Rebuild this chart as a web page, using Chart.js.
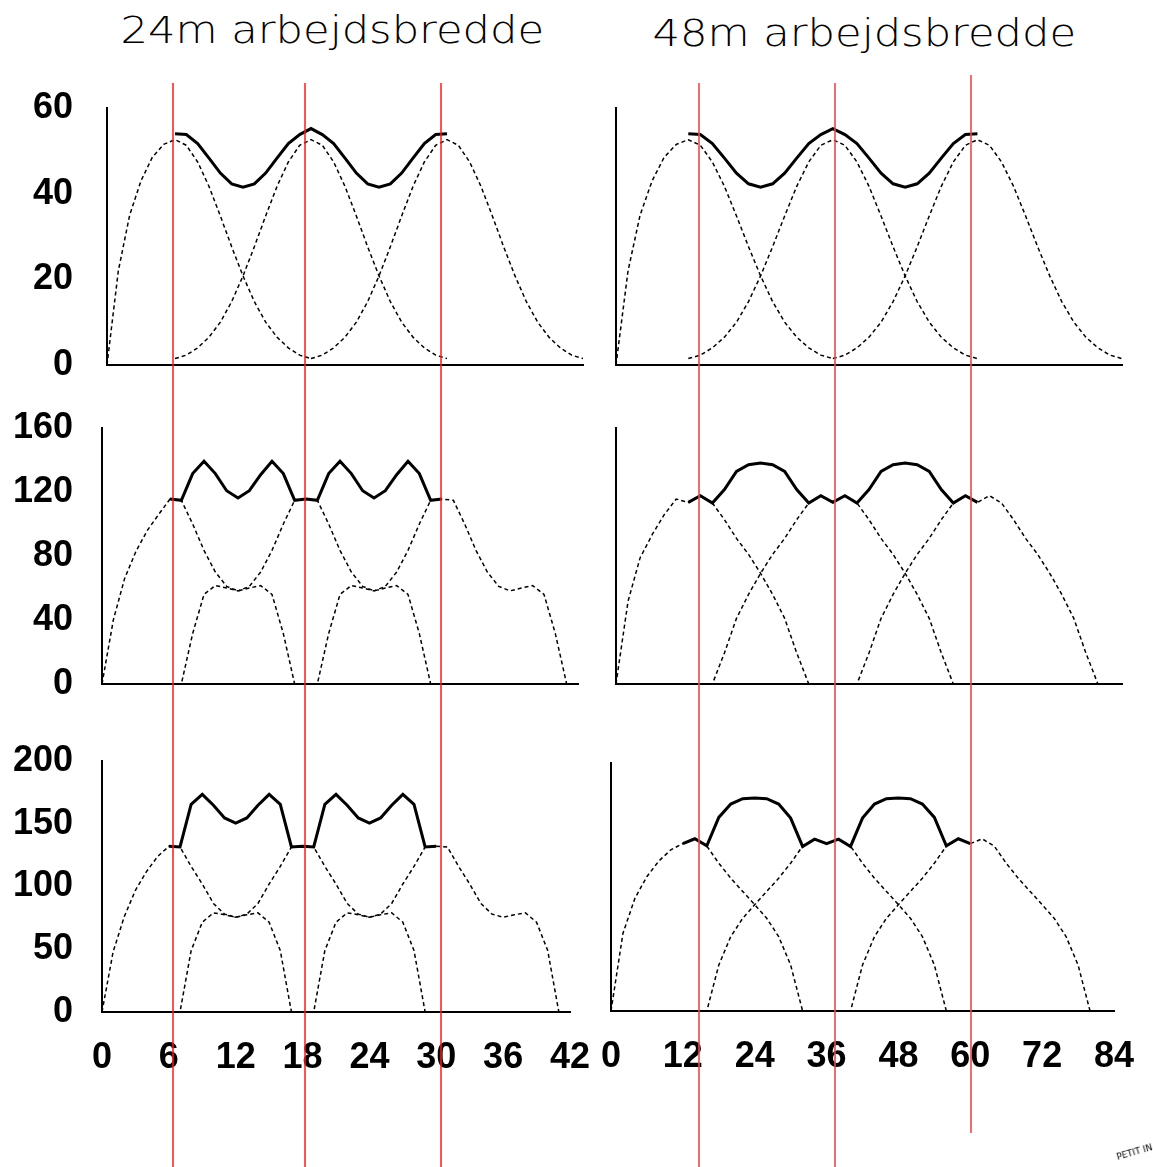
<!DOCTYPE html>
<html>
<head>
<meta charset="utf-8">
<script src="https://cdn.jsdelivr.net/npm/chart.js@4.4.1/dist/chart.umd.min.js"></script>
<style>
  html, body { margin: 0; padding: 0; background: #fff; }
  body { width: 1153px; height: 1167px; position: relative; overflow: hidden; }
  canvas { position: absolute; }
  .title {
    position: absolute;
    font-family: 'DejaVu Sans', sans-serif;
    font-weight: 200;
    font-size: 37px;
    line-height: 37px;
    color: #000;
    white-space: nowrap;
    transform-origin: 50% 50%;
  }
  .stamp {
    position: absolute;
    left: 1116px;
    top: 1147px;
    font-family: 'DejaVu Sans', sans-serif;
    font-size: 9px;
    color: #000;
    transform: rotate(-16deg);
    white-space: nowrap;
  }
</style>
</head>
<body>
<div class="title" id="title24">24m arbejdsbredde</div>
<div class="title" id="title48">48m arbejdsbredde</div>
<canvas id="c11"></canvas>
<canvas id="c12"></canvas>
<canvas id="c21"></canvas>
<canvas id="c22"></canvas>
<canvas id="c31"></canvas>
<canvas id="c32"></canvas>
<div class="stamp">PETIT IN</div>
<script>
// categories: position across the field (m)
const xLeft  = [0,1,2,3,4,5,6,7,8,9,10,11,12,13,14,15,16,17,18,19,20,21,22,23,24,25,26,27,28,29,30,31,32,33,34,35,36,37,38,39,40,41,42];
const xRight = [0,2,4,6,8,10,12,14,16,18,20,22,24,26,28,30,32,34,36,38,40,42,44,46,48,50,52,54,56,58,60,62,64,66,68,70,72,74,76,78,80,82,84];

// tick labels
const xTicksLeft  = [0, 6, 12, 18, 24, 30, 36, 42];
const xTicksRight = [0, 12, 24, 36, 48, 60, 72, 84];
const yTicks1 = [0, 20, 40, 60];
const yTicks2 = [0, 40, 80, 120, 160];
const yTicks3 = [0, 50, 100, 150, 200];

// where each series starts (category index)
const edgeStart = 0, trackAStart = 6, trackBStart = 18, sumStart = 6;

// row 1 (same shape for both widths)
const r1Edge  = [0, 22, 35, 43, 48.5, 51.5, 52.6, 51.3, 47.4, 41.7, 34.8, 27.6, 20.8, 14.8, 10, 6.5, 4, 2.3, 1.5];
const r1Track = [1.5, 2.3, 4, 6.5, 10, 14.8, 20.8, 27.6, 34.8, 41.7, 47.4, 51.3, 52.6, 51.3, 47.4, 41.7, 34.8, 27.6, 20.8, 14.8, 10, 6.5, 4, 2.3, 1.5];
const r1Sum   = [54, 53.8, 51.7, 48.3, 44.8, 42.3, 41.5, 42.3, 44.8, 48.3, 51.7, 53.8, 55.2, 53.8, 51.7, 48.3, 44.8, 42.3, 41.5, 42.3, 44.8, 48.3, 51.7, 53.8, 54];

// row 2, 24m
const r2Edge24  = [0, 40, 66, 83, 96, 106, 115.6, 114.8, 100, 83.5, 70, 61, 58.2, 60, 61.5, 56, 31.5, 0, 0];
const r2Track24 = [0, 0, 31.5, 56, 61.5, 60, 58.2, 61, 70, 83.5, 100, 114.8, 115.6, 114.8, 100, 83.5, 70, 61, 58.2, 60, 61.5, 56, 31.5, 0, 0];
const r2Sum24   = [115.6, 114.8, 131.5, 139.2, 131.5, 120.8, 116.3, 120.8, 130.8, 139.2, 131.5, 114.8, 115.6, 114.8, 131.5, 139.2, 131.5, 120.8, 116.3, 120.8, 130.8, 139.2, 131.5, 114.8, 115.6];

// row 3, 24m
const r3Edge24  = [0, 48, 76, 97, 112, 124, 132, 131.5, 116, 102, 86.5, 78, 75.5, 77.5, 79, 71.5, 49, 0, 0];
const r3Track24 = [0, 0, 49, 71.5, 79, 77.5, 75.5, 78, 86.5, 102, 116, 131.5, 132, 131.5, 116, 102, 86.5, 78, 75.5, 77.5, 79, 71.5, 49, 0, 0];
const r3Sum24   = [132, 131.5, 165.5, 173.4, 164.7, 154.6, 150.6, 154.6, 164.7, 173.4, 165.5, 131.5, 132, 131.5, 165.5, 173.4, 164.7, 154.6, 150.6, 154.6, 164.7, 173.4, 165.5, 131.5, 132];

// row 2, 48m
const r2Edge48  = [0, 51.7, 78.8, 93.3, 105.8, 115.6, 113.5, 117.7, 113.1, 102.7, 91, 81, 69.2, 56, 41, 19.4, 0, 0, 0];
const r2Track48 = [0, 0, 0, 19.4, 41, 56, 69.2, 81, 91, 102.7, 113.1, 117.7, 113.5, 117.7, 113.1, 102.7, 91, 81, 69.2, 56, 41, 19.4, 0, 0, 0];
const r2Sum48   = [113.5, 117.7, 113.1, 121.5, 132.9, 137.1, 138.1, 137.1, 132.9, 121.5, 113.1, 117.7, 113.5, 117.7, 113.1, 121.5, 132.9, 137.1, 138.1, 137.1, 132.9, 121.5, 113.1, 117.7, 113.5];

// row 3, 48m
const r3Edge48  = [0, 62.7, 91, 108.5, 121, 130, 135, 138.8, 133, 119.2, 107.1, 96.4, 85.8, 74.8, 60, 37.1, 0, 0, 0];
const r3Track48 = [0, 0, 0, 37.1, 60, 74.8, 85.8, 96.4, 107.1, 119.2, 133, 138.8, 135, 138.8, 133, 119.2, 107.1, 96.4, 85.8, 74.8, 60, 37.1, 0, 0, 0];
const r3Sum48   = [135, 138.9, 133.2, 156.1, 166.9, 171.2, 171.7, 171.2, 166.9, 155.6, 132.7, 138.6, 134.9, 138.6, 132.7, 155.6, 166.9, 171.2, 171.7, 171.2, 166.9, 156.1, 133.2, 138.9, 135];


// LAYOUT (page pixels)
const colBox = [{ x: 0, w: 600 }, { x: 595, w: 558 }];
const rowBox = [{ y: 70, h: 325 }, { y: 395, h: 325 }, { y: 720, h: 447 }];

// red marker lines drawn over the whole figure
const redLines = [
    { x: 173, y0: 83, y1: 1167, color: '#ff1a1a', width: 1.5 },
    { x: 305, y0: 83, y1: 1167, color: '#ff1a1a', width: 1.5 },
    { x: 441, y0: 83, y1: 1167, color: '#ff1a1a', width: 1.5 },
    { x: 699, y0: 83, y1: 1167, color: 'rgba(240,70,70,0.8)', width: 2 },
    { x: 835, y0: 83, y1: 1167, color: 'rgba(240,70,70,0.8)', width: 2 },
    { x: 971, y0: 75, y1: 1133, color: 'rgba(240,70,70,0.8)', width: 2 }
];

const tickFont = { family: "'Liberation Sans', Arial, sans-serif", size: 36, weight: 'bold' };

const panels = [
    { id: 'c11', col: 0, row: 0, area: { l: 107, r: 583, t: 108, b: 365 }, xs: xLeft,  xTicks: xTicksLeft,  yTicks: yTicks1, series: [r1Sum, r1Edge, r1Track, r1Track] },
    { id: 'c12', col: 1, row: 0, area: { l: 616, r: 1122, t: 108, b: 365 }, xs: xRight, xTicks: xTicksRight, yTicks: yTicks1, series: [r1Sum, r1Edge, r1Track, r1Track] },
    { id: 'c21', col: 0, row: 1, area: { l: 102, r: 578, t: 428, b: 684 }, xs: xLeft,  xTicks: xTicksLeft,  yTicks: yTicks2, series: [r2Sum24, r2Edge24, r2Track24, r2Track24] },
    { id: 'c22', col: 1, row: 1, area: { l: 616, r: 1122, t: 428, b: 684 }, xs: xRight, xTicks: xTicksRight, yTicks: yTicks2, series: [r2Sum48, r2Edge48, r2Track48, r2Track48] },
    { id: 'c31', col: 0, row: 2, area: { l: 102, r: 570, t: 761, b: 1012 }, xs: xLeft,  xTicks: xTicksLeft,  yTicks: yTicks3, series: [r3Sum24, r3Edge24, r3Track24, r3Track24] },
    { id: 'c32', col: 1, row: 2, area: { l: 611, r: 1114, t: 763, b: 1011 }, xs: xRight, xTicks: xTicksRight, yTicks: yTicks3, series: [r3Sum48, r3Edge48, r3Track48, r3Track48] }
];
const starts = [sumStart, edgeStart, trackAStart, trackBStart];

const toPoints = (xs, ys, start) => ys.map((y, i) => ({ x: xs[start + i], y: y }));

// draws the red lines that run across all panels
const redLinePlugin = (box) => ({
    id: 'redLines',
    afterDraw(chart) {
        const ctx = chart.ctx;
        ctx.save();
        redLines.forEach(l => {
            const x = Math.round(l.x - box.x) + (l.width === 1 ? 0.5 : 0);
            const y0 = Math.max(l.y0, box.y) - box.y;
            const y1 = Math.min(l.y1, box.y + box.h) - box.y;
            if (x < 0 || x > box.w || y1 <= y0) return;
            ctx.strokeStyle = l.color;
            ctx.lineWidth = l.width;
            ctx.beginPath();
            ctx.moveTo(x, y0);
            ctx.lineTo(x, y1);
            ctx.stroke();
        });
        ctx.restore();
    }
});

// titles: stretched to the width they have in the picture
const placeTitle = (el, centerX, top) => {
    el.style.top = top + 'px';
    const w = el.offsetWidth;
    const target = 423;
    el.style.left = (centerX - w / 2) + 'px';
    el.style.transform = `scaleX(${target / w})`;
};

document.addEventListener('DOMContentLoaded', () => {
    placeTitle(document.getElementById('title24'), 332, 12);
    placeTitle(document.getElementById('title48'), 864, 15);

    panels.forEach(p => {
        const box = { x: colBox[p.col].x, w: colBox[p.col].w, y: rowBox[p.row].y, h: rowBox[p.row].h };
        const canvas = document.getElementById(p.id);
        canvas.width = box.w;
        canvas.height = box.h;
        canvas.style.left = box.x + 'px';
        canvas.style.top = box.y + 'px';

        const showY = p.col === 0;
        const showX = p.row === 2;
        const yW = p.area.l - box.x;
        const xH = box.y + box.h - p.area.b;

        const datasets = p.series.map((ys, k) => ({
            data: toPoints(p.xs, ys, starts[k]),
            borderColor: '#000000',
            borderWidth: k === 0 ? 3 : 1.5,
            borderDash: k === 0 ? [] : [4, 3],
            pointRadius: 0,
            fill: false,
            tension: 0,
            clip: false
        }));

        new Chart(canvas, {
            type: 'line',
            data: { datasets: datasets },
            options: {
                responsive: false,
                animation: false,
                devicePixelRatio: 1,
                events: [],
                layout: {
                    padding: { left: 0, top: p.area.t - box.y, right: box.x + box.w - p.area.r, bottom: 0 }
                },
                plugins: { legend: { display: false }, tooltip: { enabled: false } },
                scales: {
                    x: {
                        type: 'linear',
                        min: p.xTicks[0],
                        max: p.xTicks[p.xTicks.length - 1],
                        grid: { display: false, drawTicks: false },
                        border: { display: true, color: '#000000', width: 2 },
                        ticks: { display: showX, color: '#000000', font: tickFont, padding: 24, maxRotation: 0, autoSkip: false },
                        afterBuildTicks: s => { s.ticks = p.xTicks.map(v => ({ value: v })); },
                        afterFit: s => { s.height = xH; s.paddingLeft = 0; s.paddingRight = 0; }
                    },
                    y: {
                        type: 'linear',
                        min: p.yTicks[0],
                        max: p.yTicks[p.yTicks.length - 1],
                        grid: { display: false, drawTicks: false },
                        border: { display: true, color: '#000000', width: 2 },
                        ticks: { display: showY, color: '#000000', font: tickFont, padding: p.row === 0 ? 34 : 29 },
                        afterBuildTicks: s => { s.ticks = p.yTicks.map(v => ({ value: v })); },
                        afterFit: s => { s.width = yW; s.paddingTop = 0; s.paddingBottom = 0; }
                    }
                }
            },
            plugins: [redLinePlugin(box)]
        });
    });
});
</script>
</body>
</html>
